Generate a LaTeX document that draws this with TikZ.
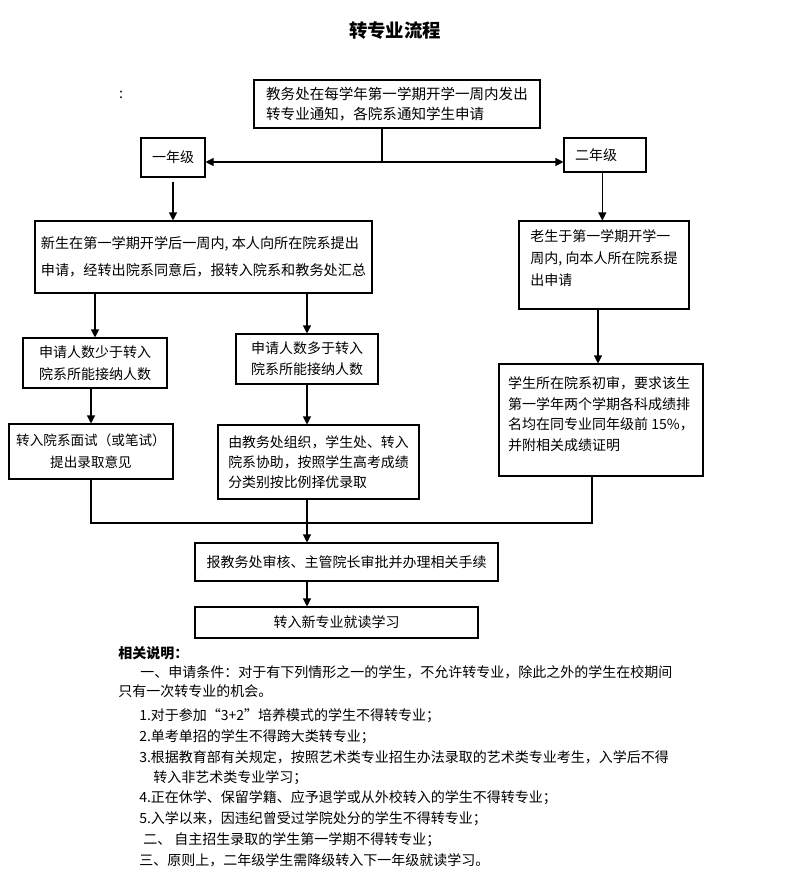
\documentclass[tikz,border=0pt]{standalone}
\usepackage{fontspec}
\setmainfont{Noto Sans CJK SC}
\usetikzlibrary{arrows.meta,calc}
\tikzset{
  box/.style={draw=black, line width=0.8pt, inner sep=0pt, font=\fontsize{10.5pt}{16pt}\selectfont},
  wh/.style 2 args={minimum width=#1*0.75pt, minimum height=#2*0.75pt},
  conn/.style={line width=0.8pt, draw=black},
  arr/.style={conn, -{Triangle[length=6pt,width=6pt]}},
  dbl/.style={conn, {Triangle[length=6pt,width=6pt]}-{Triangle[length=6pt,width=6pt]}},
  note/.style={anchor=west, inner sep=0pt, font=\fontsize{10.5pt}{14pt}\selectfont},
}
\begin{document}
\begin{tikzpicture}[x=0.75pt, y=-0.75pt]
\useasboundingbox (0,0) rectangle (790,888);
\fill[white] (0,0) rectangle (790,888);

\node[inner sep=0pt, font=\bfseries\fontsize{13.8pt}{16pt}\selectfont] (title) at (395,31) {转专业流程};
\node[inner sep=0pt, font=\fontsize{10.5pt}{12pt}\selectfont] (colon) at (121,95) {:};

\node[box, wh={286}{48}, align=left, font=\fontsize{10.9pt}{15pt}\selectfont] (notice) at (397,104)
  {教务处在每学年第一学期开学一周内发出\\转专业通知，各院系通知学生申请};
\node[box, wh={64}{39}] (g1) at (173,157.5) {一年级};
\node[box, wh={82}{34}, text width=60*0.75pt, align=left] (g2) at (605,155) {二年级};

\node[box, wh={337}{72}, align=left, font=\fontsize{10.6pt}{20.25pt}\selectfont] (new1) at (203.5,257)
  {新生在第一学期开学后一周内, 本人向所在院系提出\\申请，经转出院系同意后，报转入院系和教务处汇总};
\node[box, wh={170}{88}, align=left, font=\fontsize{10.5pt}{16.5pt}\selectfont] (old) at (604,265)
  {老生于第一学期开学一\\周内, 向本人所在院系提\\出申请\\[-5pt]\mbox{}};

\node[box, wh={144}{50}, align=center, font=\fontsize{10.5pt}{16.5pt}\selectfont] (less) at (95,363)
  {申请人数少于转入\\院系所能接纳人数};
\node[box, wh={142}{50}, align=center, font=\fontsize{10.5pt}{15.75pt}\selectfont] (more) at (307,359)
  {申请人数多于转入\\院系所能接纳人数};
\node[box, wh={164}{55}, align=center, font=\fontsize{10.2pt}{16.5pt}\selectfont] (interview) at (91,451.5)
  {转入院系面试（或笔试）\\提出录取意见};
\node[box, wh={201}{74}, align=left, font=\fontsize{10.4pt}{15pt}\selectfont] (org) at (318.5,462)
  {由教务处组织，学生处、转入\\院系协助，按照学生高考成绩\\分类别按比例择优录取};
\node[box, wh={204}{112}, align=left, font=\fontsize{10.5pt}{15.5pt}\selectfont] (check) at (601,420)
  {学生所在院系初审，要求该生\\第一学年两个学期各科成绩排\\名均在同专业同年级前 15\%，\\并附相关成绩证明\\[-6pt]\mbox{}};

\node[box, wh={303}{38}] (report) at (346.5,562) {报教务处审核、主管院长审批并办理相关手续};
\node[box, wh={283}{31}] (newmaj) at (336.5,622.5) {转入新专业就读学习};

% connectors
\coordinate (split) at (382,162);
\draw[conn] (split |- notice.south) -- (split);
\draw[dbl] (g1.east |- split) -- (g2.west |- split);
\draw[arr] ([yshift=-3pt]g1.south) -- (g1.south |- new1.north);
\draw[arr] ([xshift=-2pt]g2.south) -- ([xshift=-2pt]g2.south |- old.north);
\draw[arr] (new1.south -| less.north) -- (less.north);
\draw[arr] (new1.south -| more.north) -- (more.north);
\draw[arr] (less.south -| interview.north) -- (interview.north);
\draw[arr] (more.south) -- (more.south |- org.north);
\draw[arr] ([xshift=-4.5pt]old.south) -- ([xshift=-4.5pt]old.south |- check.north);
\coordinate (merge) at (308,523);
\coordinate (ckb) at ($(check.south)+(-9,0)$);
\draw[conn] (interview.south) -- (interview.south |- merge) -- (merge -| ckb) -- (ckb);
\draw[arr] (more.south |- org.south) -- (more.south |- report.north);
\draw[arr] (more.south |- report.south) -- (more.south |- newmaj.north);

% notes
\node[note, font=\bfseries\fontsize{10.5pt}{14pt}\selectfont] (h) at (118,653) {相关说明：};
\node[note] (n1) at (140,672) {一、申请条件：对于有下列情形之一的学生，不允许转专业，除此之外的学生在校期间};
\node[note] (n2) at (118,691) {只有一次转专业的机会。};
\node[note] (n3) at (139,716) {1.对于参加“3+2”培养模式的学生不得转专业；};
\node[note] (n4) at (139,737) {2.单考单招的学生不得跨大类转专业；};
\node[note] (n5) at (139,757) {3.根据教育部有关规定，按照艺术类专业招生办法录取的艺术类专业考生，入学后不得};
\node[note] (n6) at (153,778) {转入非艺术类专业学习；};
\node[note] (n7) at (139,798) {4.正在休学、保留学籍、应予退学或从外校转入的学生不得转专业；};
\node[note] (n8) at (139,819) {5.入学以来，因违纪曾受过学院处分的学生不得转专业；};
\node[note] (n9) at (143,840) {二、 自主招生录取的学生第一学期不得转专业；};
\node[note] (n10) at (139,860) {三、原则上，二年级学生需降级转入下一年级就读学习。};
\end{tikzpicture}
\end{document}
